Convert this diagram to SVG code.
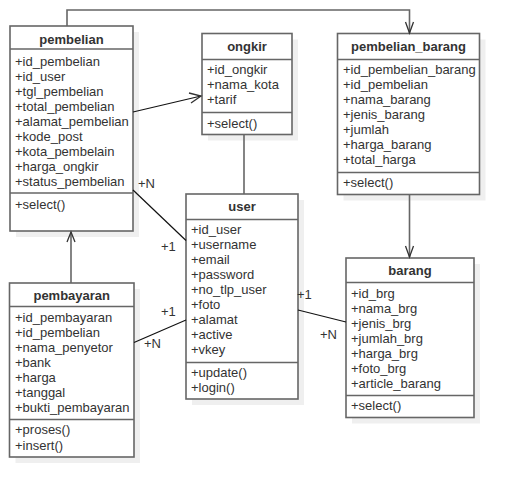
<svg xmlns="http://www.w3.org/2000/svg" width="519" height="497" viewBox="0 0 519 497">
<defs>
<style>
.box{fill:#fff;stroke:#666;stroke-width:1.6}
.sh{fill:#efefef}
.div{stroke:#666;stroke-width:1.6}
.t{font-family:"Liberation Sans",Arial,sans-serif;font-size:13px;fill:#333}
.h{font-family:"Liberation Sans",Arial,sans-serif;font-size:13px;font-weight:bold;fill:#333;text-anchor:middle}
.e{stroke:#111;stroke-width:1.2;fill:none}
.g{stroke:#666;stroke-width:1.6;fill:none}
.ah{stroke:#333;stroke-width:1.3;fill:none}
.lbl{font-family:"Liberation Sans",Arial,sans-serif;font-size:13px;fill:#333}
</style>
</defs>
<rect width="519" height="497" fill="#fff"/>

<g id="pembelian">
<rect class="sh" x="16" y="32" width="123" height="205"/>
<rect class="box" x="10" y="26" width="123" height="205"/>
<line class="div" x1="10" y1="49" x2="133" y2="49"/>
<line class="div" x1="10" y1="193" x2="133" y2="193"/>
<text class="h" x="71.5" y="43.5">pembelian</text>
<text class="t" x="15" y="66">+id_pembelian</text>
<text class="t" x="15" y="81">+id_user</text>
<text class="t" x="15" y="96">+tgl_pembelian</text>
<text class="t" x="15" y="111">+total_pembelian</text>
<text class="t" x="15" y="126">+alamat_pembelian</text>
<text class="t" x="15" y="141">+kode_post</text>
<text class="t" x="15" y="156">+kota_pembelain</text>
<text class="t" x="15" y="171">+harga_ongkir</text>
<text class="t" x="15" y="186">+status_pembelian</text>
<text class="t" x="15" y="208.5">+select()</text>
</g>

<g id="ongkir">
<rect class="sh" x="208" y="39.5" width="90" height="101"/>
<rect class="box" x="202" y="33.5" width="90" height="101"/>
<line class="div" x1="202" y1="59.5" x2="292" y2="59.5"/>
<line class="div" x1="202" y1="112.5" x2="292" y2="112.5"/>
<text class="h" x="247" y="51">ongkir</text>
<text class="t" x="207" y="74">+id_ongkir</text>
<text class="t" x="207" y="89">+nama_kota</text>
<text class="t" x="207" y="104">+tarif</text>
<text class="t" x="207" y="127.5">+select()</text>
</g>

<g id="pembelian_barang">
<rect class="sh" x="343.5" y="39.5" width="142" height="161"/>
<rect class="box" x="337.5" y="33.5" width="142" height="161"/>
<line class="div" x1="337.5" y1="59.5" x2="479.5" y2="59.5"/>
<line class="div" x1="337.5" y1="172.5" x2="479.5" y2="172.5"/>
<text class="h" x="408.5" y="51">pembelian_barang</text>
<text class="t" x="343" y="74">+id_pembelian_barang</text>
<text class="t" x="343" y="89">+id_pembelian</text>
<text class="t" x="343" y="104">+nama_barang</text>
<text class="t" x="343" y="119">+jenis_barang</text>
<text class="t" x="343" y="134">+jumlah</text>
<text class="t" x="343" y="149">+harga_barang</text>
<text class="t" x="343" y="164">+total_harga</text>
<text class="t" x="343" y="187">+select()</text>
</g>

<g id="user">
<rect class="sh" x="192" y="200" width="112" height="205"/>
<rect class="box" x="186" y="194" width="112" height="205"/>
<line class="div" x1="186" y1="219.5" x2="298" y2="219.5"/>
<line class="div" x1="186" y1="362.5" x2="298" y2="362.5"/>
<text class="h" x="242" y="211">user</text>
<text class="t" x="191" y="233.5">+id_user</text>
<text class="t" x="191" y="248.5">+username</text>
<text class="t" x="191" y="263.5">+email</text>
<text class="t" x="191" y="278.5">+password</text>
<text class="t" x="191" y="293.5">+no_tlp_user</text>
<text class="t" x="191" y="308.5">+foto</text>
<text class="t" x="191" y="323.5">+alamat</text>
<text class="t" x="191" y="338.5">+active</text>
<text class="t" x="191" y="353.5">+vkey</text>
<text class="t" x="191" y="377">+update()</text>
<text class="t" x="191" y="392">+login()</text>
</g>

<g id="pembayaran">
<rect class="sh" x="15.5" y="289" width="124.5" height="174"/>
<rect class="box" x="9.5" y="283" width="124.5" height="174"/>
<line class="div" x1="9.5" y1="306.5" x2="134" y2="306.5"/>
<line class="div" x1="9.5" y1="419.5" x2="134" y2="419.5"/>
<text class="h" x="71.75" y="299.5">pembayaran</text>
<text class="t" x="15" y="321.5">+id_pembayaran</text>
<text class="t" x="15" y="336.5">+id_pembelian</text>
<text class="t" x="15" y="351.5">+nama_penyetor</text>
<text class="t" x="15" y="366.5">+bank</text>
<text class="t" x="15" y="381.5">+harga</text>
<text class="t" x="15" y="396.5">+tanggal</text>
<text class="t" x="15" y="411.5">+bukti_pembayaran</text>
<text class="t" x="15" y="434">+proses()</text>
<text class="t" x="15" y="449.5">+insert()</text>
</g>

<g id="barang">
<rect class="sh" x="352" y="264" width="128" height="159.5"/>
<rect class="box" x="346" y="258" width="128" height="159.5"/>
<line class="div" x1="346" y1="282.5" x2="474" y2="282.5"/>
<line class="div" x1="346" y1="395.5" x2="474" y2="395.5"/>
<text class="h" x="410" y="275">barang</text>
<text class="t" x="351" y="297.5">+id_brg</text>
<text class="t" x="351" y="312.5">+nama_brg</text>
<text class="t" x="351" y="327.5">+jenis_brg</text>
<text class="t" x="351" y="342.5">+jumlah_brg</text>
<text class="t" x="351" y="357.5">+harga_brg</text>
<text class="t" x="351" y="372.5">+foto_brg</text>
<text class="t" x="351" y="387.5">+article_barang</text>
<text class="t" x="351" y="410">+select()</text>
</g>

<g id="connectors">
<polyline class="g" points="67,26 67,10 409.5,10 409.5,33"/>
<polyline class="ah" points="405.5,22 409.5,33 413.5,22"/>
<line class="e" x1="133" y1="112" x2="201" y2="96"/>
<polyline class="ah" points="189,93 201,96 191,103"/>
<line class="g" x1="244" y1="134.5" x2="244" y2="194"/>
<line class="g" x1="409.5" y1="194.5" x2="409.5" y2="257"/>
<polyline class="ah" points="405.5,246 409.5,257 413.5,246"/>
<line class="g" x1="71" y1="283" x2="71" y2="232"/>
<polyline class="ah" points="67,242 71,232 75,242"/>
<line class="e" x1="133" y1="190" x2="186" y2="240.5"/>
<line class="e" x1="134" y1="342.5" x2="186" y2="320"/>
<line class="e" x1="298" y1="310" x2="346" y2="322"/>
<text class="lbl" x="138" y="188">+N</text>
<text class="lbl" x="161" y="251">+1</text>
<text class="lbl" x="161" y="316">+1</text>
<text class="lbl" x="144" y="348">+N</text>
<text class="lbl" x="297" y="298.5">+1</text>
<text class="lbl" x="320" y="338.5">+N</text>
</g>
</svg>
